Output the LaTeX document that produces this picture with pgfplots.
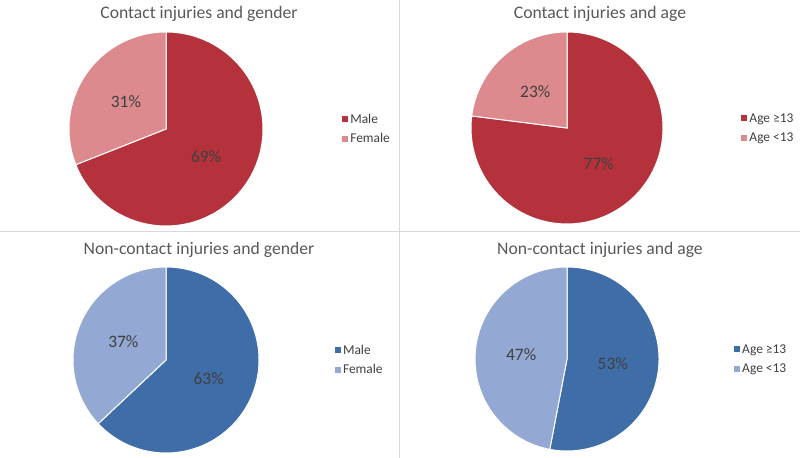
\documentclass[border=0pt]{standalone}
\usepackage{fontspec}
\setmainfont{Carlito}
\usepackage{pgfplots}
\pgfplotsset{compat=1.18}
\definecolor{dred}{HTML}{B5313B}
\definecolor{lred}{HTML}{DC8A8D}
\definecolor{dblue}{HTML}{3E6DA8}
\definecolor{lblue}{HTML}{93A8D2}
\definecolor{titlegray}{HTML}{595959}
\definecolor{labelgray}{HTML}{404040}
\definecolor{sepgray}{HTML}{D9D9D9}

% #1 x centre (bp), #2 y centre (bp), #3 radius (bp), #4 first value, #5 second value,
% #6 first colour, #7 second colour, #8 first name, #9 second name
\newcommand{\piepanel}[9]{%
  \pgfmathsetmacro{\angA}{90-3.6*#4}%
  \pgfmathsetmacro{\midA}{90-1.8*#4}%
  \pgfmathsetmacro{\midB}{\angA-1.8*#5}%
  \pgfmathsetmacro{\endB}{\angA-3.6*#5}%
  \pgfmathsetmacro{\lxA}{0.5*cos(\midA)}\pgfmathsetmacro{\lyA}{0.5*sin(\midA)}%
  \pgfmathsetmacro{\lxB}{0.5*cos(\midB)}\pgfmathsetmacro{\lyB}{0.5*sin(\midB)}%
  \begin{axis}[
    at={(#1bp,#2bp)}, anchor=center,
    width=#3bp*2, height=#3bp*2, scale only axis,
    xmin=-1, xmax=1, ymin=-1, ymax=1,
    hide axis, clip=false,
    legend style={at={(axis cs:1.81,0)}, anchor=west, draw=none, fill=none,
      inner sep=0pt, row sep=5bp, font=\fontsize{13.5}{15}\selectfont,
      text=labelgray, nodes={inner xsep=2.5bp}},
    legend cell align=left,
    legend image code/.code={\fill[##1, draw=none] (0bp,-3bp) rectangle (6bp,3bp);},
  ]
    \addplot[fill=#6, draw=white, line width=1bp, domain=\angA:90, samples=120, variable=\t]
      ({cos(t)},{sin(t)}) -- (axis cs:0,0) -- cycle;
    \addlegendentry{#8}
    \addplot[fill=#7, draw=white, line width=1bp, domain=\endB:\angA, samples=120, variable=\t]
      ({cos(t)},{sin(t)}) -- (axis cs:0,0) -- cycle;
    \addlegendentry{#9}
    \node[text=labelgray, font=\fontsize{17.5}{20}\selectfont] at (axis cs:\lxA,\lyA) {#4\%};
    \node[text=labelgray, font=\fontsize{17.5}{20}\selectfont] at (axis cs:\lxB,\lyB) {#5\%};
  \end{axis}%
}

\begin{document}
\begin{tikzpicture}[x=1bp,y=1bp]
  \path[use as bounding box] (0,0) rectangle (800,458);
  \fill[white] (0,0) rectangle (800,458);
  \draw[sepgray, line width=0.8bp] (399.5,0) -- (399.5,458);
  \draw[sepgray, line width=0.8bp] (0,226.3) -- (800,226.3);

  \piepanel{166}{329}{97}{69}{31}{dred}{lred}{Male}{Female}
  \piepanel{567}{330}{96}{77}{23}{dred}{lred}{Age ≥13}{Age <13}
  \piepanel{166}{98}{93}{63}{37}{dblue}{lblue}{Male}{Female}
  \piepanel{567}{99}{92}{53}{47}{dblue}{lblue}{Age ≥13}{Age <13}

  \begin{scope}[every node/.style={text=titlegray, font=\fontsize{17.7}{21}\selectfont}]
    \node at (199,444) {Contact injuries and gender};
    \node at (600,444) {Contact injuries and age};
    \node at (199,208) {Non-contact injuries and gender};
    \node at (600,208) {Non-contact injuries and age};
  \end{scope}
\end{tikzpicture}
\end{document}
